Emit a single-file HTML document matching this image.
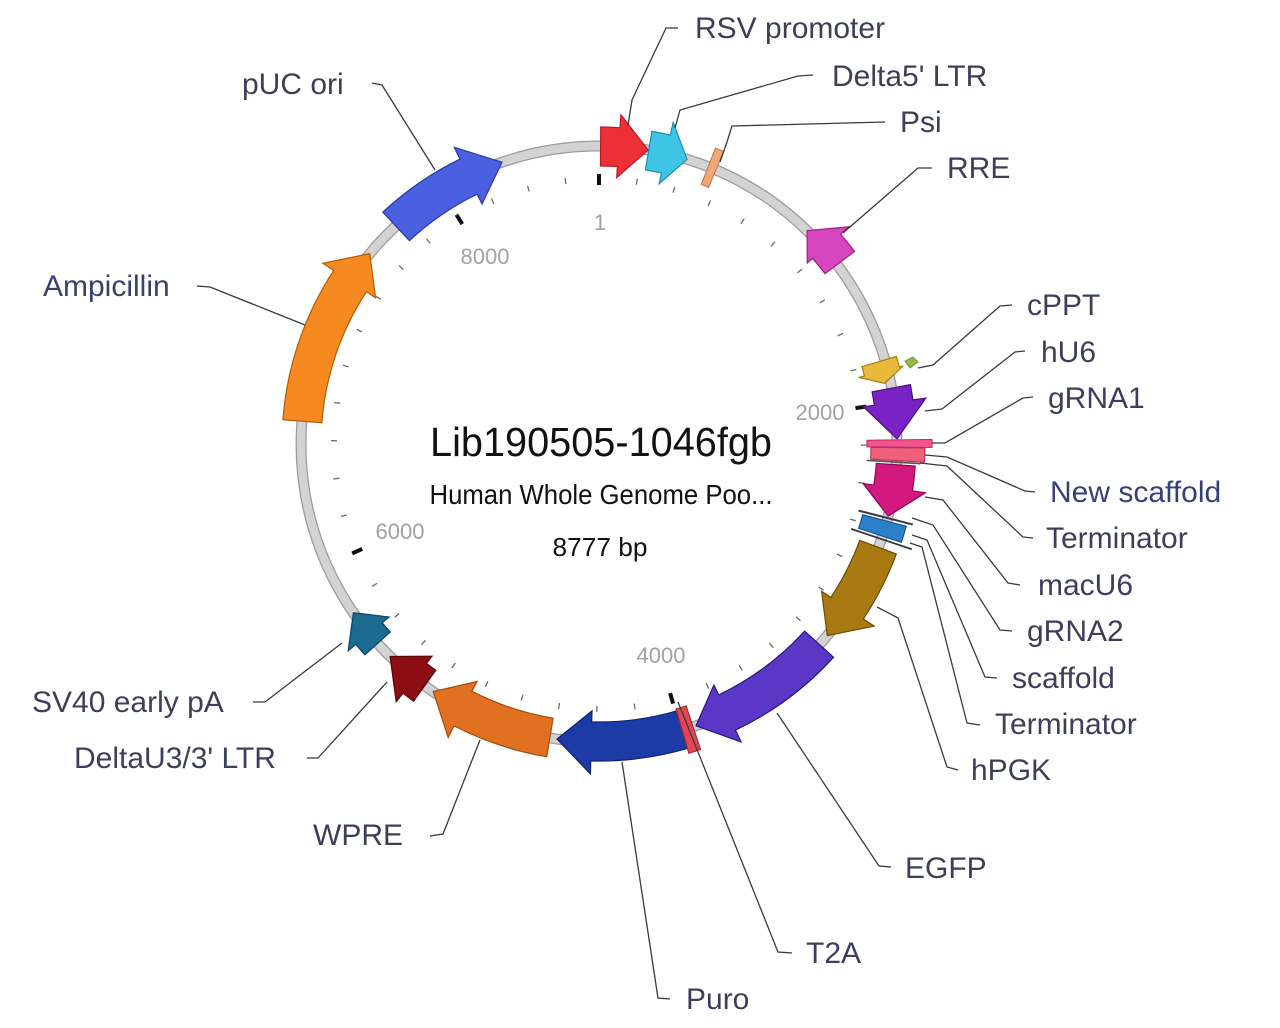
<!DOCTYPE html>
<html>
<head>
<meta charset="utf-8">
<style>
  html,body{margin:0;padding:0;background:#ffffff;}
  body{width:1280px;height:1028px;overflow:hidden;}
  svg{display:block;}
  .lbl{font-family:"Liberation Sans",Arial,sans-serif;font-size:30px;fill:#3b3f5b;}
  .tk{font-family:"Liberation Sans",Arial,sans-serif;font-size:22px;fill:#a2a2a2;}
  .ctr{font-family:"Liberation Sans",Arial,sans-serif;fill:#111;}
  .ld{fill:none;stroke:#3a3a3a;stroke-width:1.3;}
</style>
</head>
<body>
<svg id="map" width="1280" height="1028" viewBox="0 0 1280 1028" xmlns="http://www.w3.org/2000/svg">
  <rect width="1280" height="1028" fill="#ffffff"/>
  <!-- backbone ring -->
  <circle cx="599" cy="444" r="298" fill="none" stroke="#9c9c9c" stroke-width="11"/>
  <circle cx="599" cy="444" r="298" fill="none" stroke="#d3d3d3" stroke-width="8.4"/>
  <g id="ticks"></g>
  <g id="feats"></g>

  <!-- tick labels -->
  <text class="tk" x="600" y="230" text-anchor="middle">1</text>
  <text class="tk" x="820" y="420" text-anchor="middle">2000</text>
  <text class="tk" x="661" y="663" text-anchor="middle">4000</text>
  <text class="tk" x="400" y="539" text-anchor="middle">6000</text>
  <text class="tk" x="485" y="264" text-anchor="middle">8000</text>

  <!-- leader lines -->
  <g class="ld">
    <path d="M678,28 L666,28 L632,100 L628,125"/>
    <path d="M813,75 L798,76 L680,110 L675,128"/>
    <path d="M885,122 L732,126 L727,142 L720,162"/>
    <path d="M932,168 L918,168 L843,233"/>
    <path d="M1012,305 L1000,306 L933,365 L918,368"/>
    <path d="M1025,351 L1015,352 L942,409 L925,411"/>
    <path d="M1033,397 L1023,398 L945,443 L932,443"/>
    <path d="M1035,492 L1025,491 L947,457 L925,455"/>
    <path d="M1033,538 L1023,537 L947,466 L920,463"/>
    <path d="M1020,585 L1008,583 L943,500 L925,497"/>
    <path d="M1012,631 L1000,630 L933,525 L912,518"/>
    <path d="M997,678 L985,677 L927,540 L912,535"/>
    <path d="M980,725 L967,723 L922,547 L910,543"/>
    <path d="M958,770 L947,767 L898,618 L877,607"/>
    <path d="M891,867 L879,866 L777,713"/>
    <path d="M792,953 L778,952 L678,702"/>
    <path d="M670,999 L658,998 L622,762"/>
    <path d="M430,836 L443,834 L480,740"/>
    <path d="M307,758 L318,758 L387,682"/>
    <path d="M253,702 L265,702 L342,643"/>
    <path d="M197,286 L210,287 L305,325"/>
    <path d="M372,83 L382,85 L435,170"/>
  </g>

  <!-- feature labels -->
  <text class="lbl" x="695" y="38">RSV promoter</text>
  <text class="lbl" x="832" y="86">Delta5' LTR</text>
  <text class="lbl" x="900" y="132">Psi</text>
  <text class="lbl" x="947" y="178">RRE</text>
  <text class="lbl" x="1027" y="315">cPPT</text>
  <text class="lbl" x="1041" y="362">hU6</text>
  <text class="lbl" x="1048" y="408">gRNA1</text>
  <text class="lbl" x="1050" y="502" style="fill:#353f78">New scaffold</text>
  <text class="lbl" x="1046" y="548">Terminator</text>
  <text class="lbl" x="1038" y="595">macU6</text>
  <text class="lbl" x="1027" y="641">gRNA2</text>
  <text class="lbl" x="1012" y="688">scaffold</text>
  <text class="lbl" x="995" y="734">Terminator</text>
  <text class="lbl" x="971" y="780">hPGK</text>
  <text class="lbl" x="905" y="878">EGFP</text>
  <text class="lbl" x="806" y="963">T2A</text>
  <text class="lbl" x="686" y="1009">Puro</text>
  <text class="lbl" x="242" y="94">pUC ori</text>
  <text class="lbl" x="43" y="296" style="fill:#37406f">Ampicillin</text>
  <text class="lbl" x="32" y="712">SV40 early pA</text>
  <text class="lbl" x="74" y="768">DeltaU3/3' LTR</text>
  <text class="lbl" x="313" y="845">WPRE</text>

  <!-- center text -->
  <text class="ctr" x="601" y="456" text-anchor="middle" font-size="41" textLength="342" lengthAdjust="spacingAndGlyphs">Lib190505-1046fgb</text>
  <text class="ctr" x="601" y="504" text-anchor="middle" font-size="28" textLength="343" lengthAdjust="spacingAndGlyphs">Human Whole Genome Poo...</text>
  <text class="ctr" x="600" y="556" text-anchor="middle" font-size="26" textLength="95" lengthAdjust="spacingAndGlyphs">8777 bp</text>
</svg>
<script>
(function(){
  var NS="http://www.w3.org/2000/svg";
  var cx=599, cy=444;
  function P(a,r){var t=a*Math.PI/180;return [cx+r*Math.sin(t), cy-r*Math.cos(t)];}
  function f(p){return p[0].toFixed(1)+","+p[1].toFixed(1);}
  var feats=document.getElementById("feats");
  var ticks=document.getElementById("ticks");
  function add(parent,tag,attrs){var e=document.createElementNS(NS,tag);for(var k in attrs)e.setAttribute(k,attrs[k]);parent.appendChild(e);return e;}
  // ticks every 200 bp
  for(var k=0;k<44;k++){
    var a=k*200/8777*360;
    var major=(k%10===0);
    var p1=P(a,major?259:262), p2=P(a,major?270:268);
    add(ticks,"line",{x1:p1[0],y1:p1[1],x2:p2[0],y2:p2[1],stroke:major?"#111":"#6a6a6a","stroke-width":major?4:1.3});
  }
  function arrow(t,h,p,fill,stroke,o){
    o=o||{};
    var r1=o.r1||278,r2=o.r2||317,rh1=o.rh1||267,rh2=o.rh2||330,rt=o.rt||298;
    var sw=h>t?1:0, large=Math.abs(h-t)>180?1:0;
    var d="M"+f(P(t,r2))+" A"+r2+","+r2+" 0 "+large+" "+sw+" "+f(P(h,r2))+
          " L"+f(P(h,rh2))+" L"+f(P(p,rt))+" L"+f(P(h,rh1))+" L"+f(P(h,r1))+
          " A"+r1+","+r1+" 0 "+large+" "+(1-sw)+" "+f(P(t,r1))+" Z";
    add(feats,"path",{d:d,fill:fill,stroke:stroke,"stroke-width":1.2,"stroke-linejoin":"miter"});
  }
  function box(a1,a2,r1,r2,fill,stroke){
    var d="M"+f(P(a1,r2))+" A"+r2+","+r2+" 0 0 1 "+f(P(a2,r2))+" L"+f(P(a2,r1))+
          " A"+r1+","+r1+" 0 0 0 "+f(P(a1,r1))+" Z";
    add(feats,"path",{d:d,fill:fill,stroke:stroke,"stroke-width":1.1});
  }
  function rline(a,r1,r2,col,w){
    var p1=P(a,r1),p2=P(a,r2);
    add(feats,"line",{x1:p1[0],y1:p1[1],x2:p2[0],y2:p2[1],stroke:col,"stroke-width":w});
  }
  arrow(0.3,3.8,9.5,"#ee3036","#b51d24");
  arrow(9.6,13,17.2,"#3ec4e4","#1b8db0");
  box(21.5,23.1,279,318,"#f0a878","#c57845");
  arrow(53,49,44.3,"#d545bd","#9c2184",{r1:283,r2:320,rh1:276,rh2:331,rt:298});
  arrow(73.6,75.6,78,"#e9b93c","#a57b12",{r1:274,r2:310,rh1:268,rh2:314,rt:292});
  add(feats,"path",{d:"M905,361 L913,357 L918,362 L910,368 Z",fill:"#96b84a",stroke:"#6c8a2a","stroke-width":0.8});
  arrow(79.2,82,89,"#7b22c4","#4b0e82");
  box(89.2,90.6,268,333,"#f2558e","#c0306a");
  box(90.7,93.2,272,326,"#f0607a","#b23552");
  rline(93.5,268,322,"#555",1.6);
  arrow(94,98.5,104,"#d3187f","#8c0a52");
  rline(104.4,268,324,"#333a4a",2);
  box(105,108,273,318,"#2b80c9","#12508f");
  rline(108.6,266,330,"#333a4a",1.8);
  arrow(110.3,123.5,130,"#a97a12","#6b4b02");
  arrow(132.3,154.5,161,"#5b37c7","#2b1582");
  arrow(163.5,181.5,188.1,"#1c3ba7","#0d2272");
  box(161.6,163.8,276,322,"#e24553","#a22232");
  arrow(189.5,207.2,213.8,"#e17121","#a34b09");
  arrow(215.8,218.2,224.5,"#8c0d13","#5a0508",{r1:279,r2:317,rh1:270,rh2:328,rt:298});
  arrow(228,230.5,235.5,"#1b6a8f","#0b4262",{r1:281,r2:315,rh1:272,rh2:325,rt:298});
  arrow(274.4,303.2,309.7,"#f68a21","#b25c02");
  arrow(317,334,341,"#4b5fe1","#2a3aa2");
})();
</script>
</body>
</html>
